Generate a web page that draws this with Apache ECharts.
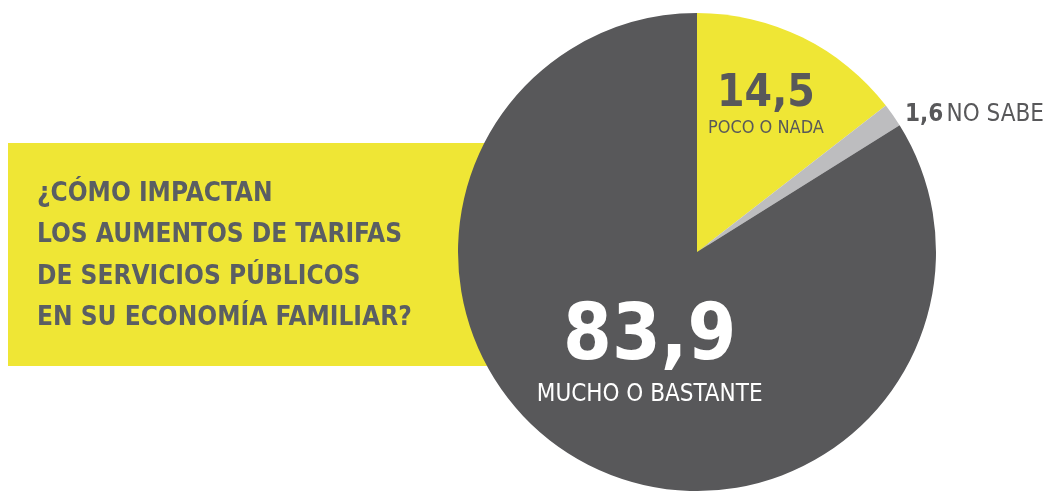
<!DOCTYPE html>
<html lang="es" style="height: 100%">
<head>
  <meta charset="utf-8">
  <title>Aumentos de tarifas</title>
  <script type="text/javascript" src="https://fastly.jsdelivr.net/npm/echarts@6/dist/echarts.min.js"></script>
</head>
<body style="height: 100%; margin: 0; background: #fff">
  <div id="chart" style="width: 1045px; height: 491px"></div>

  <script type="text/javascript">
    var dom = document.getElementById('chart');
    var myChart = echarts.init(dom);

    const pregunta = '¿CÓMO IMPACTAN\nLOS AUMENTOS DE TARIFAS\nDE SERVICIOS PÚBLICOS\nEN SU ECONOMÍA FAMILIAR?';
    const categorias = ['POCO O NADA', 'NO SABE', 'MUCHO O BASTANTE'];
    const valores = [14.5, 1.6, 83.9];

    const fuente = '"Liberation Sans Narrow", "DejaVu Sans Condensed", sans-serif';
    const gris = '#58585a';
    const coma = v => String(v).replace('.', ',');

    // desplazamiento de cada etiqueta respecto a su posicion "inside"
    const ajustes = [
      { dx: 15, dy: -37 },
      { dx: 177, dy: -67 },
      { dx: 12, dy: -4 }
    ];

    let etiquetas = [
      {
        formatter: p => '{big|' + coma(p.value) + '}\n{small|' + p.name + '}',
        rich: {
          big: { fontFamily: fuente, fontSize: 44, fontWeight: 'bold', color: gris, lineHeight: 46 },
          small: { fontFamily: fuente, fontSize: 18, color: gris, lineHeight: 20 }
        }
      },
      {
        formatter: p => '{b|' + coma(p.value) + '} {r|' + p.name + '}',
        rich: {
          b: { fontFamily: fuente, fontSize: 24, fontWeight: 'bold', color: gris },
          r: { fontFamily: fuente, fontSize: 24, color: gris }
        }
      },
      {
        formatter: p => '{big|' + coma(p.value) + '}\n{small|' + p.name + '}',
        rich: {
          big: { fontFamily: fuente, fontSize: 78, fontWeight: 'bold', color: '#fff', lineHeight: 80 },
          small: { fontFamily: fuente, fontSize: 24, color: '#fff', lineHeight: 32 }
        }
      }
    ];
    const colores = ['#efe635', '#bdbdbf', gris];

    let option = {
      animation: false,
      title: {
        text: pregunta,
        left: 37,
        top: 173,
        padding: 0,
        textStyle: {
          fontFamily: fuente,
          fontSize: 26,
          fontWeight: 'bold',
          color: '#5a5e63',
          lineHeight: 41.5
        }
      },
      graphic: [
        {
          type: 'rect',
          z: -10,
          shape: { x: 8, y: 143, width: 700, height: 223 },
          style: { fill: '#efe635' }
        }
      ],
      series: [
        {
          type: 'pie',
          center: [697, 252],
          radius: [0, 239],
          startAngle: 90,
          clockwise: true,
          silent: true,
          avoidLabelOverlap: false,
          label: { show: true, position: 'inside' },
          labelLine: { show: false },
          labelLayout: params => ajustes[params.dataIndex],
          data: categorias.map((c, i) => ({
            name: c,
            value: valores[i],
            itemStyle: { color: colores[i] },
            label: etiquetas[i]
          }))
        }
      ]
    };

    myChart.setOption(option);
  </script>
</body>
</html>
